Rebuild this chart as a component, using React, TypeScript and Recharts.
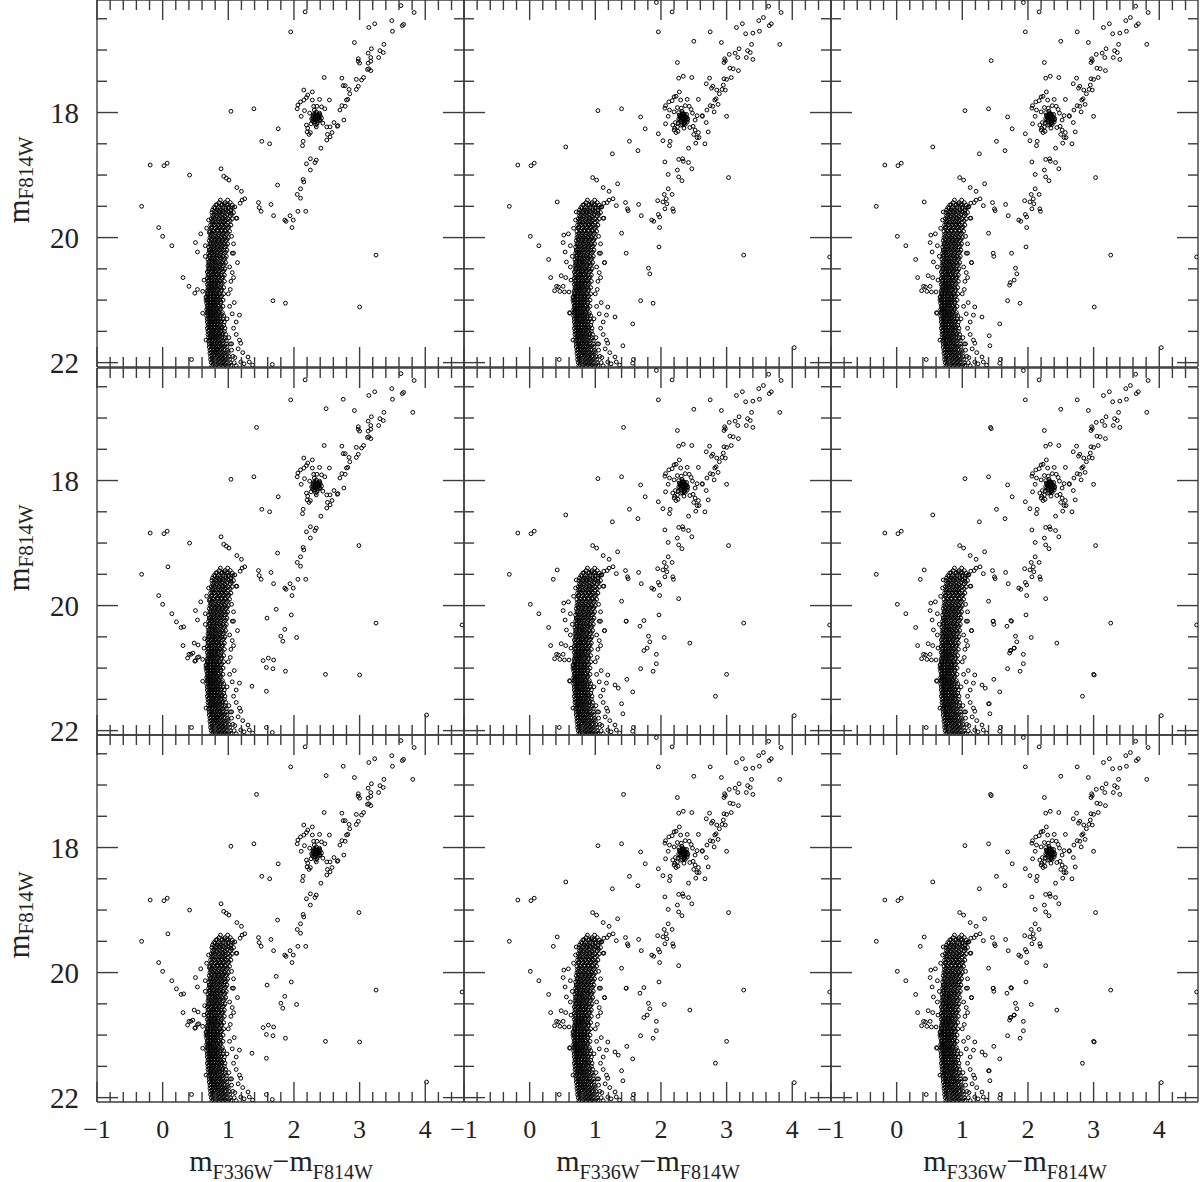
import React from 'react';
import { ScatterChart, Scatter, XAxis, YAxis, ReferenceLine } from 'recharts';

// axis ticks
const xTicks = [-1, -0.8, -0.6, -0.4, -0.2, 0, 0.2, 0.4, 0.6, 0.8, 1, 1.2, 1.4, 1.6, 1.8, 2, 2.2, 2.4, 2.6, 2.8, 3, 3.2, 3.4, 3.6, 3.8, 4, 4.2, 4.4];
const yTicks = [16.5, 17, 17.5, 18, 18.5, 19, 19.5, 20, 20.5, 21, 21.5, 22];
const xLabelTicks = [-1, 0, 1, 2, 3, 4];
const yLabelTicks = [18, 20, 22];

// main sequence ridge, rows of [mag, colours...]
const msRows: number[][] = [
  [19.44, .86, .95, 1.03],
  [19.48, .81, .90, .98, 1.06],
  [19.52, .78, .85, .92, 1.00, 1.07],
  [19.56, .76, .83, .89, .96, 1.04],
  [19.60, .75, .81, .87, .94, 1.01, 1.08],
  [19.65, .76, .82, .88, .95, 1.03],
  [19.70, .74, .80, .86, .92, .99, 1.06],
  [19.75, .75, .81, .87, .93, 1.00],
  [19.80, .73, .79, .85, .91, .97, 1.04],
  [19.85, .74, .80, .86, .92, .99],
  [19.90, .72, .78, .84, .90, .96, 1.02],
  [19.95, .73, .79, .85, .91, .97],
  [20.00, .72, .77, .83, .89, .95, 1.00],
  [20.05, .71, .78, .84, .90, .96],
  [20.10, .72, .77, .82, .88, .94, .99],
  [20.15, .70, .76, .83, .89, .95],
  [20.20, .71, .76, .81, .87, .93, .98],
  [20.25, .70, .75, .82, .88, .94],
  [20.30, .71, .76, .81, .86, .92, .97],
  [20.35, .69, .75, .80, .87, .93],
  [20.40, .70, .75, .80, .85, .91, .96],
  [20.45, .69, .74, .80, .86, .92],
  [20.50, .70, .75, .79, .84, .90, .95],
  [20.55, .68, .74, .79, .85, .91],
  [20.60, .69, .74, .78, .83, .89, .94],
  [20.65, .68, .73, .79, .84, .90],
  [20.70, .69, .74, .78, .83, .88, .94],
  [20.75, .68, .73, .78, .84, .89],
  [20.80, .69, .73, .78, .82, .88, .93],
  [20.85, .68, .72, .77, .83, .89],
  [20.90, .68, .73, .77, .82, .87, .93],
  [20.95, .67, .72, .77, .83, .88],
  [21.00, .68, .73, .77, .82, .87, .92],
  [21.05, .67, .72, .77, .82, .88],
  [21.10, .68, .72, .77, .81, .86, .92],
  [21.15, .67, .72, .76, .82, .87],
  [21.20, .68, .72, .77, .81, .86, .91],
  [21.25, .67, .72, .76, .81, .87, .93],
  [21.30, .68, .72, .77, .82, .87, .92],
  [21.35, .68, .73, .77, .82, .88, .94],
  [21.40, .69, .73, .78, .83, .88, .93],
  [21.45, .68, .73, .78, .83, .89, .95],
  [21.50, .69, .74, .78, .83, .89, .94],
  [21.55, .69, .74, .79, .84, .90, .96],
  [21.60, .70, .74, .79, .84, .90, .95, 1.01],
  [21.65, .70, .75, .80, .85, .91, .97],
  [21.70, .71, .75, .80, .86, .91, .97, 1.03],
  [21.75, .71, .76, .81, .86, .92, .98],
  [21.80, .72, .77, .82, .87, .93, .99, 1.05],
  [21.85, .72, .77, .82, .88, .94, 1.00],
  [21.90, .73, .78, .83, .89, .95, 1.01, 1.07],
  [21.95, .73, .78, .84, .90, .96, 1.02],
  [22.00, .74, .79, .85, .91, .97, 1.03, 1.09],
  [22.05, .75, .80, .86, .92, .98, 1.04],
];

// denser inner ridge of the main sequence
const msRowsInner: number[][] = [
  [19.47, .83, .91, 1.00],
  [19.53, .80, .88, .96, 1.04],
  [19.58, .79, .86, .92, .99],
  [19.63, .78, .85, .91, .98, 1.05],
  [19.68, .77, .83, .90, .96],
  [19.73, .77, .84, .90, .96, 1.03],
  [19.78, .76, .82, .89, .95],
  [19.83, .75, .82, .88, .94, 1.01],
  [19.88, .76, .83, .89, .95],
  [19.93, .75, .81, .87, .93, .99],
  [19.98, .74, .80, .86, .93],
  [20.03, .74, .80, .86, .92, .98],
  [20.08, .73, .79, .85, .91],
  [20.13, .73, .79, .85, .91, .97],
  [20.18, .73, .78, .84, .90],
  [20.23, .72, .78, .84, .90, .96],
  [20.28, .72, .78, .83, .89],
  [20.33, .72, .77, .83, .89, .95],
  [20.38, .71, .77, .82, .88],
  [20.43, .71, .77, .82, .88, .94],
  [20.48, .71, .76, .82, .87],
  [20.53, .70, .76, .81, .87, .93],
  [20.58, .70, .76, .81, .86],
  [20.63, .70, .75, .81, .86, .92],
  [20.68, .70, .75, .80, .86],
  [20.73, .70, .75, .80, .85, .91],
  [20.78, .70, .75, .80, .85],
  [20.83, .70, .75, .79, .85, .90],
  [20.88, .69, .74, .79, .85],
  [20.93, .69, .74, .79, .84, .90],
  [20.98, .69, .74, .79, .84],
  [21.03, .69, .74, .79, .84, .89],
  [21.08, .69, .74, .79, .84],
  [21.13, .69, .74, .78, .84, .89],
  [21.18, .69, .74, .79, .84],
  [21.23, .69, .74, .79, .84, .90],
  [21.28, .70, .74, .79, .84],
  [21.33, .70, .75, .80, .85, .90],
  [21.38, .70, .75, .80, .85],
  [21.43, .70, .75, .80, .86, .91],
  [21.48, .71, .76, .81, .86],
  [21.53, .71, .76, .81, .87, .92],
  [21.58, .72, .77, .82, .87],
  [21.63, .72, .77, .82, .88, .94],
  [21.68, .73, .78, .83, .88],
  [21.73, .73, .78, .84, .89, .95],
  [21.78, .74, .79, .84, .90],
  [21.83, .74, .80, .85, .91, .97],
  [21.88, .75, .80, .86, .92],
  [21.93, .75, .81, .87, .93, .99],
  [21.98, .76, .82, .88, .94],
  [22.03, .77, .83, .89, .95, 1.01],
];

const msEdge = [
  [0.88, 19.40], [0.99, 19.40], [0.94, 19.46], [1.13, 19.69], [1.10, 19.51], [1.04, 19.61], [1.06, 20.25], [1.14, 20.40],
  [1.02, 20.47], [1.06, 20.56], [1.08, 20.64], [1.04, 20.70], [1.03, 20.83], [1.09, 21.04], [1.17, 21.24], [1.06, 21.22],
  [1.12, 21.35], [1.08, 21.45], [1.17, 21.64], [1.19, 21.69], [1.22, 21.84], [1.30, 21.91], [1.19, 21.99], [1.12, 22.05],
  [1.37, 22.04], [1.32, 21.99], [0.61, 21.21], [0.69, 21.16], [0.66, 21.64], [0.63, 20.68], [0.66, 21.00], [0.70, 19.72],
  [0.67, 19.85], [1.05, 19.98], [1.08, 20.10], [1.00, 20.90], [1.02, 21.10], [1.12, 21.55], [1.15, 21.78], [1.24, 22.02],
  [1.10, 21.92], [1.05, 21.70], [0.98, 21.30], [0.65, 20.30], [0.66, 20.95],
];

// dense centre of the red clump, all panels
const clumpCore = [
  [2.33, 18.06], [2.35, 18.10], [2.31, 18.12], [2.37, 18.14], [2.34, 18.02], [2.29, 18.06], [2.38, 18.08], [2.32, 18.09],
  [2.36, 18.06], [2.30, 18.15], [2.35, 18.18], [2.40, 18.12], [2.27, 18.10], [2.33, 18.20], [2.39, 18.03], [2.32, 18.03],
];

// giant branch, clump, subgiants and field stars, left column
const giantsLeft = [
  [3.63, 16.29], [3.83, 16.40], [2.17, 16.39], [1.95, 16.71], [3.14, 16.64], [3.23, 16.58], [3.49, 16.53], [3.50, 16.70],
  [3.65, 16.61], [3.67, 16.59], [2.92, 16.88], [3.37, 16.91], [3.18, 16.98], [3.31, 17.01], [3.36, 17.04], [3.29, 17.12],
  [3.13, 17.05], [2.98, 17.14], [2.98, 17.18], [3.00, 17.21], [3.17, 17.12], [3.17, 17.18], [3.13, 17.21], [3.14, 17.30],
  [3.12, 17.31], [3.17, 17.33], [3.03, 17.48], [3.06, 17.44], [2.95, 17.47], [2.46, 17.44], [2.73, 17.45], [2.75, 17.57],
  [2.78, 17.57], [2.84, 17.63], [2.95, 17.63], [2.98, 17.58], [2.85, 17.70], [2.80, 17.80], [2.82, 17.79], [2.73, 17.89],
  [2.78, 17.90], [2.70, 17.96], [2.76, 18.12], [2.66, 18.22],
  [2.15, 17.64], [2.28, 17.67], [2.21, 17.72], [2.19, 17.76], [2.15, 17.80], [2.10, 17.83], [2.06, 17.88], [2.05, 17.94],
  [2.11, 18.06], [2.16, 17.97], [2.28, 17.80], [2.39, 17.79], [2.30, 17.90], [2.35, 17.90], [2.42, 17.91], [2.47, 17.94],
  [2.54, 17.80], [2.24, 18.01], [2.30, 18.03], [2.34, 18.07], [2.37, 18.04], [2.29, 18.09], [2.39, 18.12], [2.32, 18.15],
  [2.26, 18.18], [2.34, 18.23], [2.19, 18.20], [2.21, 18.25], [2.25, 18.32], [2.20, 18.31], [2.23, 18.35], [2.44, 18.17],
  [2.50, 18.23], [2.55, 18.23], [2.61, 18.16], [2.67, 18.21], [2.34, 17.99], [2.39, 18.01], [2.42, 18.09], [2.31, 17.96],
  [2.36, 18.10], [2.33, 18.12], [2.28, 18.13], [2.40, 18.05],
  [2.50, 18.44], [2.51, 18.35], [2.55, 18.39], [2.58, 18.32], [2.41, 18.57], [2.13, 18.53], [2.14, 18.46], [2.19, 18.82],
  [2.25, 18.74], [2.32, 18.80], [2.34, 18.76], [2.25, 18.92], [2.14, 19.07], [2.15, 19.11], [2.10, 19.22], [2.05, 19.31],
  [2.10, 19.37], [2.06, 19.58], [2.18, 19.58], [1.94, 19.65], [1.99, 19.72], [1.86, 19.72], [1.88, 19.74], [1.97, 19.84],
  [1.75, 19.16], [1.65, 19.47], [1.69, 19.65], [1.46, 19.44], [1.47, 19.52], [1.50, 19.58], [1.21, 19.40], [1.25, 19.38],
  [1.18, 19.45], [1.12, 19.69], [1.20, 19.26], [1.13, 19.20], [1.01, 19.08], [0.97, 19.05], [0.93, 19.02], [0.89, 18.90],
  [1.08, 20.25],
  [1.04, 17.98], [1.39, 17.94], [1.76, 18.26], [1.51, 18.46], [1.63, 18.50], [0.41, 19.00], [-0.19, 18.84], [0.02, 18.85],
  [0.07, 18.81], [-0.32, 19.50], [-0.06, 19.84], [0.00, 19.98], [0.14, 20.13], [0.31, 20.64], [0.40, 20.78], [0.49, 20.89],
  [0.53, 20.83], [0.61, 20.86], [0.50, 20.08], [0.53, 20.23], [0.58, 19.94], [0.65, 20.13], [0.71, 19.92], [0.44, 21.95],
  [3.25, 20.28], [3.00, 21.11], [1.68, 21.01], [1.87, 21.05], [1.67, 22.03],
];

// giant branch, clump, subgiants and field stars, middle and right columns
const giantsRight = [
  [1.93, 16.24], [2.17, 16.39], [3.64, 16.30], [3.83, 16.40], [3.56, 16.48], [3.49, 16.53], [3.68, 16.58], [3.65, 16.61],
  [3.24, 16.58], [3.15, 16.64], [3.50, 16.70], [3.40, 16.73], [3.29, 16.74], [2.75, 16.71], [1.96, 16.71], [2.50, 16.86],
  [2.92, 16.88], [3.38, 16.91], [3.81, 16.91], [3.19, 16.98], [3.13, 17.05], [3.32, 17.01], [3.36, 17.04], [3.30, 17.12],
  [3.40, 17.15], [3.17, 17.12], [3.04, 17.07], [2.97, 17.14], [2.96, 17.20], [2.98, 17.17], [3.05, 17.29], [3.10, 17.30],
  [3.18, 17.33], [2.25, 17.20], [2.27, 17.45], [2.34, 17.42], [2.47, 17.44], [2.74, 17.45], [2.96, 17.46], [3.00, 17.47],
  [3.07, 17.44], [2.69, 17.54], [2.79, 17.58], [2.95, 17.56], [2.98, 17.64], [2.93, 17.63], [2.77, 17.61], [2.85, 17.64],
  [2.89, 17.70], [2.84, 17.78], [2.82, 17.80], [2.87, 17.87], [2.79, 17.90], [2.75, 17.89], [2.70, 17.96], [2.81, 17.99],
  [3.00, 18.06], [2.57, 17.79], [2.63, 18.05], [2.69, 18.16],
  [2.28, 17.67], [2.23, 17.74], [2.20, 17.75], [2.30, 17.80], [2.40, 17.79], [2.17, 17.81], [2.12, 17.83], [2.07, 17.89],
  [2.06, 17.93], [2.13, 17.96], [2.11, 18.06], [2.20, 17.99], [2.25, 17.92], [2.31, 17.93], [2.37, 17.89], [2.43, 17.90],
  [2.46, 17.95], [2.48, 18.01], [2.55, 18.05], [2.63, 18.06], [2.52, 18.12], [2.28, 18.04], [2.33, 18.01], [2.35, 18.08],
  [2.38, 18.11], [2.29, 18.11], [2.33, 18.15], [2.40, 18.15], [2.37, 18.19], [2.26, 18.17], [2.22, 18.16], [2.18, 18.20],
  [2.07, 18.18], [2.21, 18.25], [2.26, 18.30], [2.23, 18.32], [2.35, 18.25], [2.44, 18.24], [2.49, 18.22], [2.52, 18.28],
  [2.57, 18.32], [2.50, 18.35], [2.55, 18.40], [2.58, 18.40], [2.53, 18.49], [2.67, 18.50], [2.72, 18.31], [2.42, 18.57],
  [2.14, 18.46], [2.03, 18.45], [2.13, 18.53], [1.96, 18.34], [2.31, 18.05], [2.36, 18.03], [2.34, 18.12], [2.30, 18.08],
  [2.39, 18.07], [2.32, 17.98], [2.27, 18.00], [2.41, 18.10], [2.36, 18.17], [2.30, 18.20], [2.25, 18.23], [2.20, 18.28],
  [2.27, 18.75], [2.33, 18.74], [2.42, 18.80], [2.34, 18.78], [2.06, 18.79], [2.47, 18.90], [2.25, 18.92], [2.11, 18.99],
  [2.27, 19.03], [2.32, 19.09], [3.03, 19.04],
  [2.11, 19.22], [2.05, 19.31], [2.17, 19.31], [2.08, 19.38], [1.95, 19.41], [2.03, 19.43], [2.09, 19.46], [2.06, 19.54],
  [2.18, 19.54], [2.19, 19.58], [1.96, 19.63], [1.98, 19.67], [1.86, 19.72], [1.89, 19.74], [1.98, 19.84], [1.97, 20.15],
  [1.66, 19.47], [1.70, 19.65], [1.46, 19.44], [1.49, 19.54], [1.50, 19.57], [1.32, 19.49], [1.40, 19.93], [1.47, 20.25],
  [1.27, 19.38], [1.21, 19.40], [1.18, 19.44], [1.13, 19.45], [1.09, 19.51], [1.12, 19.69], [1.21, 19.26], [1.12, 19.20],
  [1.34, 19.14], [1.02, 19.08], [0.96, 19.04], [1.26, 18.66], [1.65, 18.61], [1.52, 18.46], [1.76, 18.26], [1.69, 18.07],
  [1.40, 17.94], [1.04, 17.97],
  [0.55, 18.55], [-0.18, 18.84], [0.02, 18.85], [0.07, 18.81], [-0.31, 19.50], [0.42, 19.43], [0.01, 19.98], [0.14, 20.13],
  [0.29, 20.35], [0.32, 20.64], [1.81, 20.49], [1.83, 20.58], [1.69, 21.01], [1.88, 21.05], [1.57, 21.38], [3.26, 20.28],
  [4.57, 20.31], [4.03, 21.76], [1.42, 21.73], [1.30, 21.27], [1.19, 21.11], [1.14, 20.40], [1.08, 20.25], [0.45, 21.95],
  [1.58, 21.95], [1.57, 22.01],
  [0.52, 19.96], [0.59, 19.94], [0.51, 20.08], [0.62, 20.13], [0.54, 20.23], [0.56, 20.39], [0.62, 20.47], [0.48, 20.61],
  [0.55, 20.64], [0.41, 20.78], [0.44, 20.79], [0.46, 20.86], [0.38, 20.85], [0.51, 20.78], [0.53, 20.87], [0.60, 20.87],
  [0.61, 21.20], [0.71, 19.59],
];

// additional stars in the lower two rows, left column
const extraLeft = [
  [2.75, 16.70], [2.49, 16.85], [1.43, 17.15], [3.81, 16.91], [2.99, 19.04], [0.08, 19.38], [0.21, 20.26], [0.28, 20.35],
  [0.32, 20.34], [1.53, 20.88], [1.61, 20.84], [1.69, 20.87], [1.58, 20.99], [2.48, 21.10], [1.36, 21.29], [1.58, 21.37],
  [1.80, 20.49], [1.83, 20.57], [1.86, 20.38], [2.04, 20.51], [1.96, 20.15], [1.73, 20.06], [1.59, 20.20], [4.56, 20.31],
  [4.02, 21.75], [1.58, 21.95], [0.38, 20.84], [0.43, 20.78], [0.48, 20.60], [0.54, 20.63], [0.50, 20.88], [0.55, 20.82],
  [0.64, 20.53], [0.46, 20.76],
];

// additional stars in the lower two rows, middle and right columns
const extraRight = [
  [1.43, 17.15], [0.36, 19.58], [2.83, 21.45], [3.00, 21.10], [2.27, 19.89], [2.44, 20.60], [2.05, 20.51], [1.74, 20.72],
  [1.79, 20.68], [1.93, 20.78], [1.93, 20.93], [1.47, 20.25], [1.68, 20.33], [1.74, 20.24], [1.35, 21.32], [1.48, 21.18],
  [1.40, 21.57],
];

// right column only
const extraCol3 = [
  [1.44, 17.17], [1.72, 20.76], [1.73, 20.72], [1.79, 20.68], [1.48, 20.30], [1.75, 20.25], [1.41, 21.57], [3.01, 21.11],
];

const X_DOMAIN: [number, number] = [-1, 4.59];
const Y_DOMAIN: [number, number] = [16.2, 22.07];
const PW = 367;
const PH = 367;
const LM = 90; // room for y tick labels
const BM = 80; // room for x tick labels
const COLS = [97, 464, 831];
const ROWS = [0, 368, 735];
const AXIS = '#3c3c3c';
const FONT = '"Liberation Serif", "DejaVu Serif", serif';

const toPts = (a: number[][]) => a.map(([x, y]) => ({ x, y }));
const rowsToPairs = (rows: number[][]) => rows.flatMap(([y, ...xs]) => xs.map((x) => [x, y]));
const msCore = [...rowsToPairs(msRows), ...rowsToPairs(msRowsInner)];

const panelSets: number[][][][] = [
  [giantsLeft], [giantsRight], [giantsRight, extraCol3],
  [giantsLeft, extraLeft], [giantsRight, extraRight], [giantsRight, extraRight, extraCol3],
  [giantsLeft, extraLeft], [giantsRight, extraRight], [giantsRight, extraRight, extraCol3],
];

const fmt = (v: number) => (v < 0 ? '\u2212' + Math.abs(v) : String(v));

const Ring = (p: any) => (
  <circle cx={p.cx} cy={p.cy} r={1.9} fill="none" stroke="#000" strokeWidth={1} />
);

function XTick(p: any) {
  const { x, y, payload, show } = p;
  const major = xLabelTicks.includes(payload.value);
  const len = major ? 20 : 10;
  return (
    <g>
      <line x1={x} y1={y} x2={x} y2={y - len} stroke={AXIS} strokeWidth={1.4} />
      <line x1={x} y1={y - PH} x2={x} y2={y - PH + len} stroke={AXIS} strokeWidth={1.4} />
      {show && major && (
        <text x={x} y={y + 36} textAnchor="middle" fontFamily={FONT} fontSize={26} fill="#222">
          {fmt(payload.value)}
        </text>
      )}
    </g>
  );
}

function YTick(p: any) {
  const { x, y, payload, show } = p;
  const major = yLabelTicks.includes(payload.value);
  const len = major ? 21 : 10;
  return (
    <g>
      <line x1={x} y1={y} x2={x + len} y2={y} stroke={AXIS} strokeWidth={1.4} />
      <line x1={x + PW} y1={y} x2={x + PW - len} y2={y} stroke={AXIS} strokeWidth={1.4} />
      {show && major && (
        <text x={x - 18} y={y + 10} textAnchor="end" fontFamily={FONT} fontSize={29} fill="#222">
          {fmt(payload.value)}
        </text>
      )}
    </g>
  );
}

function Panel({ idx }: { idx: number }) {
  const col = idx % 3;
  const row = Math.floor(idx / 3);
  const pts = toPts([...msCore, ...msEdge, ...clumpCore, ...panelSets[idx].flat()]);
  return (
    <div style={{ position: 'absolute', left: COLS[col] - LM, top: ROWS[row] }}>
      <ScatterChart width={PW + LM} height={PH + BM} margin={{ top: 0, right: 0, bottom: 0, left: 0 }}>
        <XAxis
          type="number" dataKey="x" domain={X_DOMAIN} allowDataOverflow ticks={xTicks} interval={0}
          height={BM} tickSize={0} tickMargin={0} tickLine={false}
          axisLine={{ stroke: AXIS, strokeWidth: 1.4 }}
          tick={(t: any) => <XTick {...t} show={row === 2} />}
        />
        <YAxis
          type="number" dataKey="y" domain={Y_DOMAIN} reversed allowDataOverflow ticks={yTicks} interval={0}
          width={LM} tickSize={0} tickMargin={0} tickLine={false}
          axisLine={{ stroke: AXIS, strokeWidth: 1.4 }}
          tick={(t: any) => <YTick {...t} show={col === 0} />}
        />
        <ReferenceLine y={Y_DOMAIN[0]} stroke={AXIS} strokeWidth={1.4} />
        <ReferenceLine x={X_DOMAIN[1]} stroke={AXIS} strokeWidth={1.4} />
        <Scatter data={pts} isAnimationActive={false} shape={Ring} />
      </ScatterChart>
    </div>
  );
}

export default function App() {
  return (
    <div style={{ position: 'absolute', left: 0, top: 0, width: 1200, height: 1182, background: '#fff' }}>
      <style>{'.recharts-surface{overflow:visible}'}</style>
      <svg width={1200} height={1182} style={{ position: 'absolute', left: 0, top: 0 }}>
        {ROWS.map((top) => (
          <text key={top} transform={`translate(29, ${top + 180}) rotate(-90)`} textAnchor="middle" fontFamily={FONT} fontSize={31} fill="#222">
            m<tspan fontSize={21} dy={4}>F814W</tspan>
          </text>
        ))}
        {COLS.map((left) => (
          <text key={left} x={left + 184} y={1171} textAnchor="middle" fontFamily={FONT} fontSize={30} fill="#222">
            m<tspan fontSize={20} dy={8}>F336W</tspan>
            <tspan fontSize={30} dy={-8}>{'\u2212m'}</tspan>
            <tspan fontSize={20} dy={8}>F814W</tspan>
          </text>
        ))}
      </svg>
      {[0, 1, 2, 3, 4, 5, 6, 7, 8].map((i) => (
        <Panel key={i} idx={i} />
      ))}
    </div>
  );
}
